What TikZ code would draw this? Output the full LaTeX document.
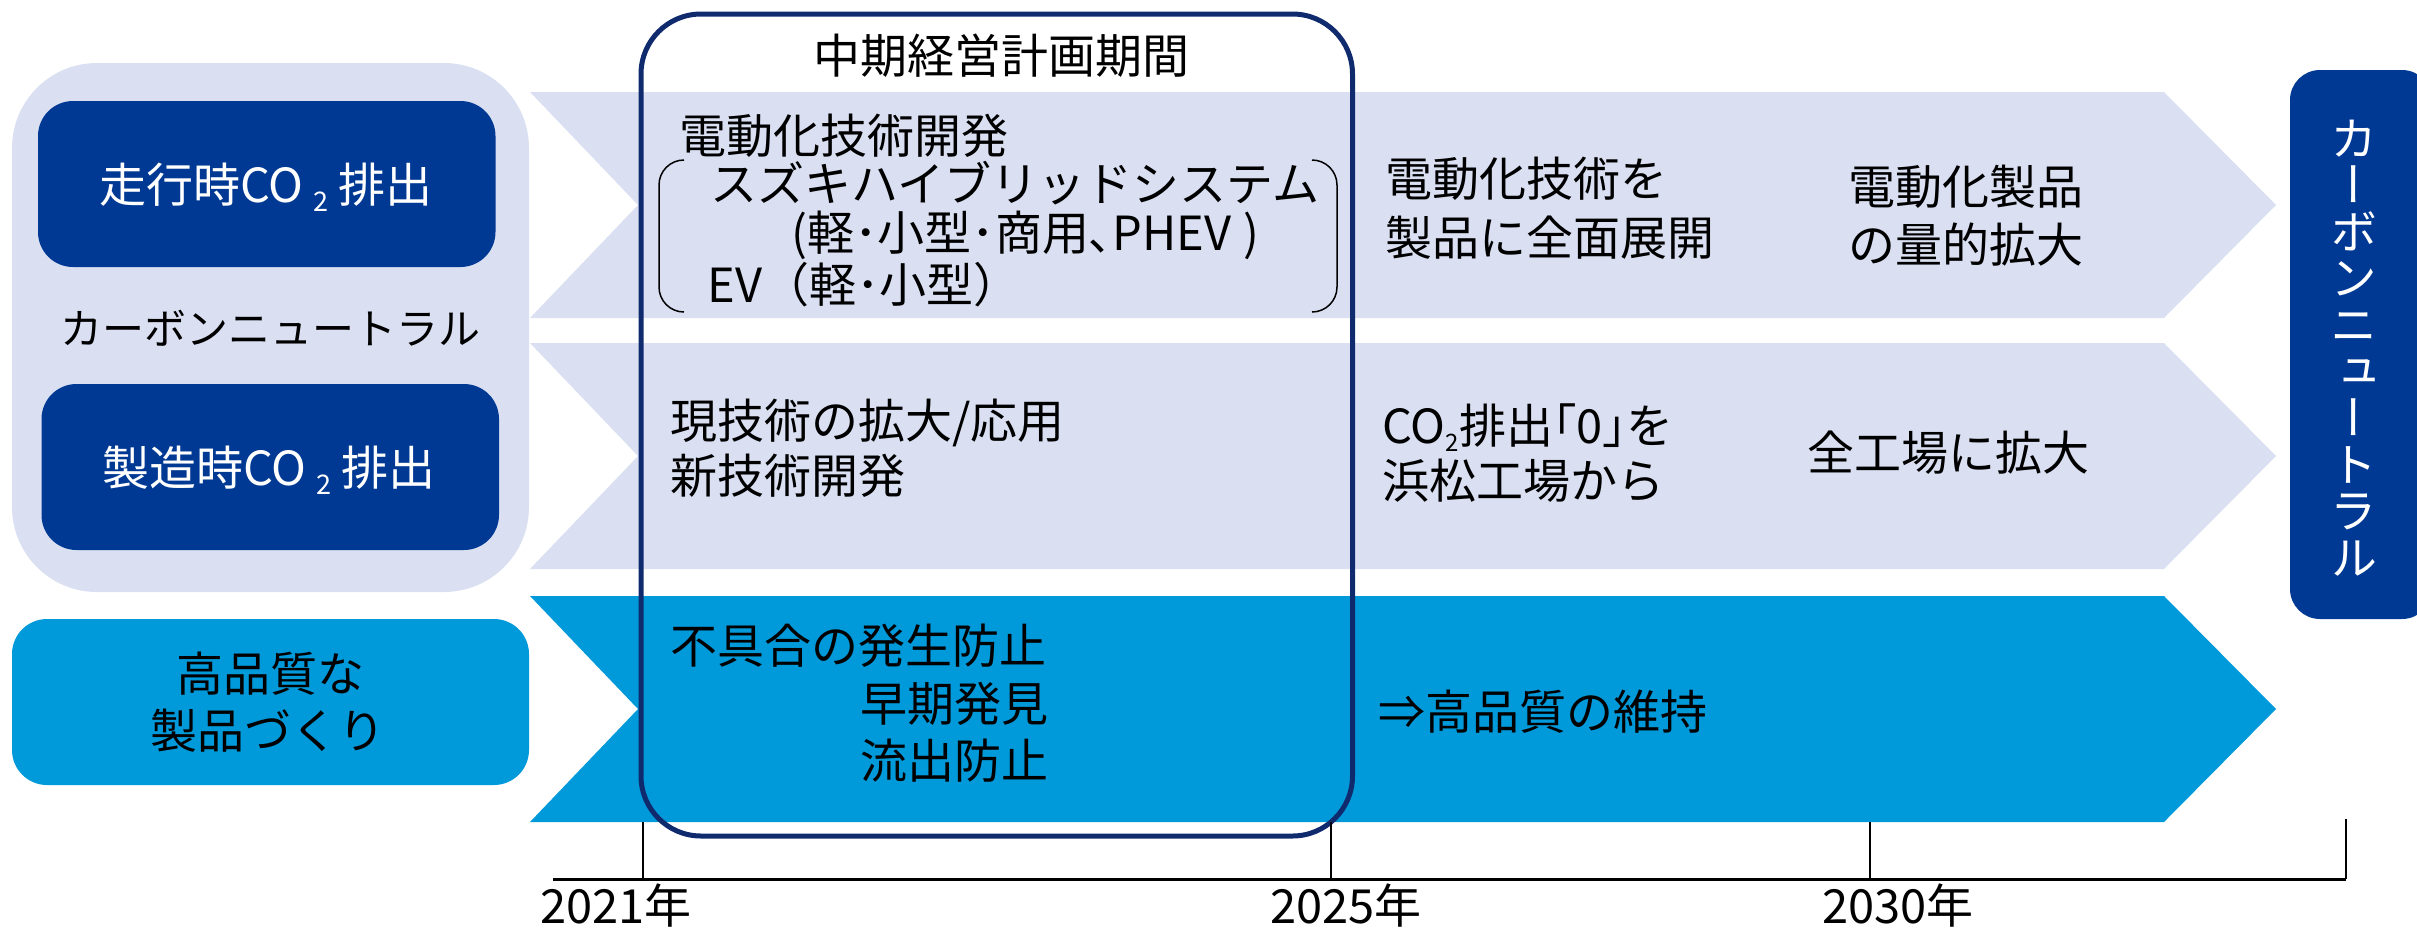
\documentclass[tikz,border=0pt]{standalone}
\usepackage{fontspec}
\setmainfont{Noto Sans CJK JP}
\newfontfamily\jpv[RawFeature=+vert]{Noto Sans CJK JP}
\definecolor{lav}{HTML}{DAE0F2}
\definecolor{navy}{HTML}{003993}
\definecolor{cyanb}{HTML}{0099DA}
\definecolor{framec}{HTML}{0F2B6E}
\newcommand\subtwo[2]{\raisebox{#2}{\fontsize{#1}{#1}\selectfont 2}}
\begin{document}
\begin{tikzpicture}[x=0.5pt,y=-0.5pt,
  txt/.style={inner sep=0pt, font=\fontsize{23.5pt}{28pt}\selectfont, anchor=base west},
  ctxt/.style={txt, anchor=base},
  wtxt/.style={ctxt, text=white}]
\useasboundingbox (0,0) rectangle (2417,928);
% left group
\fill[lav, rounded corners=42.5pt] (12,63) rectangle (529,592);
\fill[navy, rounded corners=17.5pt] (38,101) rectangle (495.5,267);
\fill[navy, rounded corners=17.5pt] (41.5,384) rectangle (499,550);
\fill[cyanb, rounded corners=17.5pt] (12,619) rectangle (529,785);
% chevron rows
\fill[lav] (530,92) -- (2164,92) -- (2276,205) -- (2164,318) -- (530,318) -- (638,205) -- cycle;
\fill[lav] (530,343) -- (2164,343) -- (2276,456) -- (2164,569) -- (530,569) -- (638,456) -- cycle;
\fill[cyanb] (530,596) -- (2164,596) -- (2276,709) -- (2164,822) -- (530,822) -- (638,709) -- cycle;
% right box
\fill[navy, rounded corners=15pt] (2290,70) rectangle (2432,619);
% mid-term frame
\draw[framec, line width=2.5pt, rounded corners=30pt] (641,14) rectangle (1352.5,836);
% bracket pair
\draw[line width=0.75pt, rounded corners=12.5pt] (684,160) -- (659,160) -- (659,312) -- (684,312);
\draw[line width=0.75pt, rounded corners=12.5pt] (1312,160) -- (1337,160) -- (1337,312) -- (1312,312);
% timeline
\draw[line width=1.5pt] (553,879) -- (2346,879);
\draw[line width=1pt] (643,822) -- (643,879);
\draw[line width=1pt] (1330.5,822) -- (1330.5,879);
\draw[line width=1pt] (1870,822) -- (1870,879);
\draw[line width=1pt] (2345.6,819) -- (2345.6,879);
% texts left
\node[wtxt] (run) at (266,202) {走行時CO\hspace{5pt}\subtwo{13.5pt}{-4.5pt}\hspace{5pt}排出};
\node[wtxt] (mfg) at (269,485) {製造時CO\hspace{5pt}\subtwo{13.5pt}{-4.5pt}\hspace{5pt}排出};
\node[ctxt, font=\fontsize{21pt}{25pt}\selectfont] (cnl) at (271,344) {カーボンニュートラル};
\node[ctxt] (hq1) at (270,691) {高品質な};
\node[ctxt] (hq2) at (268,748) {製品づくり};
% mid-term
\node[ctxt] (mt) at (1001,73) {中期経営計画期間};
\node[txt] (r1a) at (679,153) {電動化技術開発};
\node[txt] (r1b) at (710,201) {スズキハイブリッドシステム};
\node[txt] (r1c) at (791,250) {(軽･小型･商用､PHEV\hspace{6pt})};
\node[txt] (r1d) at (707,302) {EV（軽･小型）};
\node[txt] (r2a) at (670,438) {現技術の拡大/応用};
\node[txt] (r2b) at (670,493) {新技術開発};
\node[txt] (r3a) at (670,663) {不具合の発生防止};
\node[txt, anchor=base east] (r3b) at (1049,721) {早期発見};
\node[txt, anchor=base east] (r3c) at (1049,778) {流出防止};
% after 2025
\node[txt] (r1e) at (1385,196) {電動化技術を};
\node[txt] (r1f) at (1385,255) {製品に全面展開};
\node[txt] (r1g) at (1848,204) {電動化製品};
\node[txt] (r1h) at (1848,262) {の量的拡大};
\node[txt] (r2c) at (1382,443) {CO\subtwo{12pt}{-4pt}排出｢0｣を};
\node[txt] (r2d) at (1382,498) {浜松工場から};
\node[txt] (r2e) at (1807,470) {全工場に拡大};
\node[txt] (r3d) at (1378,729) {⇒高品質の維持};
% vertical
\node[inner sep=0pt, text=white, align=center, font=\jpv\fontsize{23.5pt}{23.3pt}\selectfont] (cnv) at (2354,348) {カ\\ー\\ボ\\ン\\ニ\\ュ\\ー\\ト\\ラ\\ル};
% years
\node[ctxt] (y1) at (616,923) {2021年};
\node[ctxt] (y2) at (1346,923) {2025年};
\node[ctxt] (y3) at (1898,923) {2030年};
\end{tikzpicture}
\end{document}
